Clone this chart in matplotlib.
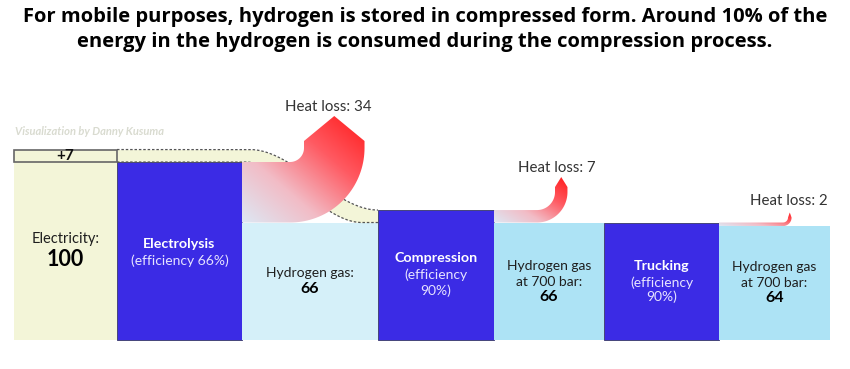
import numpy as np
import matplotlib.pyplot as plt
from matplotlib.patches import Rectangle, Polygon
from matplotlib.colors import LinearSegmentedColormap

plt.rcParams['font.family'] = ['Lato', 'DejaVu Sans']

# chart data
stages = ["Electricity", "Electrolysis", "Hydrogen gas", "Compression",
          "Hydrogen gas at 700 bar", "Trucking", "Hydrogen gas at 700 bar"]
stage_values = [100, 100, 66, 73, 66, 66, 64]
extra_electricity = 7
heat_losses = [34, 7, 2]
efficiencies = [66, 90, 90]
title = ("For mobile purposes, hydrogen is stored in compressed form. Around 10% of the\n"
         "energy in the hydrogen is consumed during the compression process.")

# layout (pixels)
edges = [14, 117, 242, 378, 494, 604, 719, 830]
K = 1.78      # px per energy unit
BASE = 340    # pixel row of the baseline


def py(y):
    return (BASE - y) / K


fig = plt.figure(figsize=(8.5, 3.69), dpi=100)
ax = fig.add_axes([0, 0, 1, 1])
ax.set_xlim(0, 850)
ax.set_ylim(-(369 - BASE) / K, BASE / K)
ax.axis('off')

pale = '#f3f5d8'
blue = '#3b2be5'
box_colors = [pale, blue, '#d5f0f9', blue, '#ade3f5', blue, '#ade3f5']
for i, v in enumerate(stage_values):
    is_proc = i % 2 == 1
    ax.add_patch(Rectangle((edges[i], 0), edges[i + 1] - edges[i], v,
                           fc=box_colors[i], ec='#45457a' if is_proc else 'none',
                           lw=0.7, zorder=2))

# extra electricity box
ax.add_patch(Rectangle((edges[0], stage_values[0]), edges[1] - edges[0], extra_electricity,
                       fc=pale, ec='#666666', lw=1.2, zorder=3))
ax.text((edges[0] + edges[1]) / 2, stage_values[0] + extra_electricity / 2,
        f"+{extra_electricity}", ha='center', va='center', fontsize=11,
        fontweight='bold', color='#111111', zorder=5)


# band carrying the extra electricity to compression
def smooth(x, a, b):
    t = np.clip((x - a) / (b - a), 0, 1)
    return t * t * (3 - 2 * t)


xs = np.linspace(edges[1], edges[3], 300)
top_hi = stage_values[0] + extra_electricity
band_top = top_hi - (top_hi - stage_values[3]) * smooth(xs, 250, 378)
band_bot = stage_values[1] - (stage_values[1] - stage_values[2]) * smooth(xs, 245, 362)
ax.fill_between(xs, band_bot, band_top, color=pale, lw=0, zorder=1.5)
ax.plot(xs, band_top, color='#555555', lw=0.9, ls=(0, (2, 1.5)), zorder=3)
ax.plot(xs, band_bot, color='#555555', lw=0.9, ls=(0, (2, 1.5)), zorder=3)

cmap = LinearSegmentedColormap.from_list('heat', ['#dde8f4', '#f2bcc6', '#ff5a62', '#ff1a1a'])


def heat_arrow(x0, top_u, w_u, run, r, stem, tip):
    top = top_u * K
    bot = (top_u - w_u) * K
    ww = w_u * K
    cx = x0 + run
    cy = top + r
    R = r + ww
    a = np.linspace(-np.pi / 2, 0, 40)
    inner = np.c_[cx + r * np.cos(a), cy + r * np.sin(a)]
    outer = np.c_[cx + R * np.cos(a[::-1]), cy + R * np.sin(a[::-1])]
    pts = np.vstack([[[x0, top]], inner,
                     [[cx + r, cy + stem], [cx + r + ww / 2, cy + stem + tip], [cx + R, cy + stem]],
                     outer, [[x0, bot]]])
    pts[:, 1] /= K
    poly = Polygon(pts, closed=True, fc='none', lw=0, zorder=4)
    ax.add_patch(poly)
    gx, gy = np.meshgrid(np.linspace(0, 1, 200), np.linspace(0, 1, 200))
    grad = (gx + gy) / 2
    im = ax.imshow(grad, extent=[x0, cx + R, bot / K, (cy + stem + tip) / K],
                   origin='lower', cmap=cmap, aspect='auto', zorder=4,
                   interpolation='bilinear')
    im.set_clip_path(poly)


heat_arrow(edges[2], stage_values[1], heat_losses[0], 48, 14, 7, 25)
heat_arrow(edges[4], stage_values[3], heat_losses[1], 43, 18, 5, 10)
heat_arrow(edges[6], stage_values[5], heat_losses[2], 64, 5, 0, 5)

for (x, y), loss in zip([(328, 107), (557, 168), (789, 201)], heat_losses):
    ax.text(x, py(y), f"Heat loss: {loss}", ha='center', va='center',
            fontsize=10.8, color='#333333', zorder=6)

dark = '#1e1e1e'
light = '#e6e3ff'
mid = [(edges[i] + edges[i + 1]) / 2 for i in range(len(stages))]

# electricity
ax.text(mid[0], py(239), "Electricity:", ha='center', va='center', fontsize=10.5, color=dark)
ax.text(mid[0], py(259), f"{stage_values[0]}", ha='center', va='center', fontsize=15.5,
        fontweight='bold', color='black')

# electrolysis
ax.text(mid[1], py(244), stages[1], ha='center', va='center', fontsize=10.3,
        fontweight='bold', color='white')
ax.text(mid[1], py(261), f"(efficiency {efficiencies[0]}%)", ha='center', va='center',
        fontsize=10, color=light)

# hydrogen gas
ax.text(mid[2], py(273), "Hydrogen gas:", ha='center', va='center', fontsize=10, color=dark)
ax.text(mid[2], py(289), f"{stage_values[2]}", ha='center', va='center', fontsize=11.5,
        fontweight='bold', color='black')

# compression and trucking
for i, eff, ys in [(3, efficiencies[1], (258, 275, 291)), (5, efficiencies[2], (266, 283, 297))]:
    ax.text(mid[i], py(ys[0]), stages[i], ha='center', va='center', fontsize=10.3,
            fontweight='bold', color='white')
    ax.text(mid[i], py(ys[1]), "(efficiency", ha='center', va='center', fontsize=10, color=light)
    ax.text(mid[i], py(ys[2]), f"{eff}%)", ha='center', va='center', fontsize=10, color=light)

# hydrogen at 700 bar
for i, ys in [(4, (266, 282, 297)), (6, (267, 283, 298))]:
    ax.text(mid[i], py(ys[0]), "Hydrogen gas", ha='center', va='center', fontsize=10, color=dark)
    ax.text(mid[i], py(ys[1]), "at 700 bar:", ha='center', va='center', fontsize=10, color=dark)
    ax.text(mid[i], py(ys[2]), f"{stage_values[i]}", ha='center', va='center', fontsize=11.5,
            fontweight='bold', color='black')

ax.text(15, py(131), "Visualization by Danny Kusuma", ha='left', va='center', fontsize=8,
        fontweight='bold', fontstyle='italic', color='#d9dbd0')

fig.text(0.5, 1 - 29.5 / 369, title, ha='center', va='center', fontsize=14.5,
         fontweight='bold', color='black', linespacing=1.36,
         family=['Open Sans', 'DejaVu Sans'])

fig.savefig('out.png', dpi=100)
